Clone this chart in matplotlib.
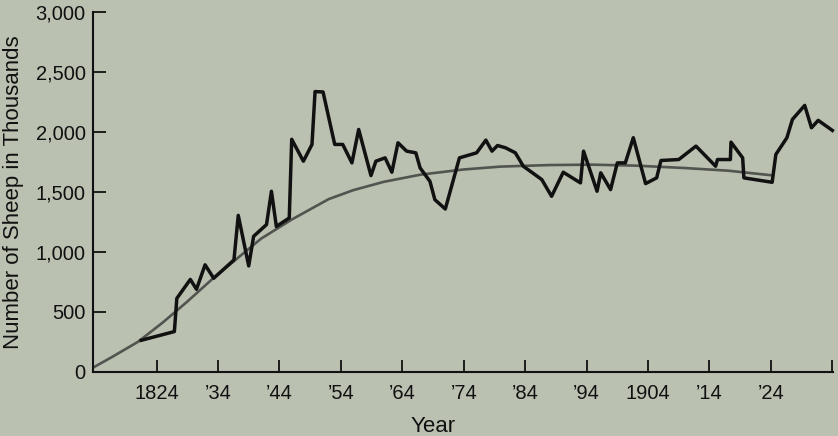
import matplotlib
matplotlib.use('Agg')
import matplotlib.pyplot as plt

# Yearly sheep counts (thousands)
years = [1821.5, 1826.9, 1827.3, 1829.5, 1830.5, 1831.9, 1833.3, 1836.6, 1837.3, 1839.0,
         1839.8, 1841.9, 1842.7, 1843.5, 1845.6, 1846.0, 1847.9, 1849.3, 1849.8, 1851.1,
         1853.0, 1854.3, 1855.8, 1856.9, 1858.9, 1859.7, 1861.2, 1862.3, 1863.3, 1864.7,
         1866.2, 1866.9, 1868.5, 1869.3, 1871.0, 1873.3, 1876.1, 1877.6, 1878.6, 1879.5,
         1880.8, 1882.4, 1883.7, 1886.7, 1888.3, 1890.2, 1893.0, 1893.5, 1895.7, 1896.3,
         1897.9, 1899.0, 1900.3, 1901.6, 1903.6, 1905.4, 1906.1, 1909.0, 1911.8, 1915.0,
         1915.3, 1917.4, 1917.5, 1919.4, 1919.6, 1924.2, 1924.8, 1926.6, 1927.5, 1929.5,
         1930.6, 1931.7, 1934.0]
sheep = [262, 335, 612, 770, 688, 892, 780, 933, 1305, 883,
         1130, 1228, 1506, 1212, 1283, 1940, 1757, 1897, 2338, 2335,
         1897, 1897, 1743, 2022, 1637, 1757, 1785, 1665, 1911, 1841,
         1827, 1701, 1589, 1436, 1358, 1785, 1827, 1933, 1841, 1888,
         1869, 1827, 1715, 1604, 1464, 1665, 1576, 1841, 1506, 1660,
         1520, 1743, 1743, 1953, 1570, 1618, 1763, 1771, 1883, 1715,
         1771, 1771, 1916, 1785, 1618, 1581, 1813, 1953, 2106, 2223,
         2036, 2098, 2014]

# Fitted trend curve
trend_years = [1813.7, 1817, 1821, 1825, 1829, 1833, 1837, 1841, 1846, 1852, 1856,
               1861, 1867, 1874, 1880, 1888, 1895, 1902, 1910, 1917, 1924]
trend_sheep = [35, 130, 250, 410, 585, 770, 940, 1110, 1270, 1440, 1515,
               1585, 1645, 1688, 1712, 1725, 1728, 1720, 1700, 1678, 1640]

# Axis ticks
x_ticks = [1824, 1834, 1844, 1854, 1864, 1874, 1884, 1894, 1904, 1914, 1924, 1934]
x_tick_labels = ['1824', '\u201934', '\u201944', '\u201954', '\u201964', '\u201974',
                 '\u201984', '\u201994', '1904', '\u201914', '\u201924', '']
y_ticks = [0, 500, 1000, 1500, 2000, 2500, 3000]
y_tick_labels = ['0', '500', '1,000', '1,500', '2,000', '2,500', '3,000']

BG = '#bac1b1'


def create_chart():
    # Figure sized to 838x436 pixels
    fig = plt.figure(figsize=(8.38, 4.36), dpi=100, facecolor=BG)
    ax = fig.add_axes([0.1113, 0.1475, 0.8827, 0.8243])
    ax.set_facecolor(BG)
    return fig, ax


def draw_data(ax):
    # Smooth trend first, raw series on top
    ax.plot(trend_years, trend_sheep, color='#51544f', linewidth=1.9,
            solid_capstyle='round', solid_joinstyle='round', clip_on=False)
    ax.plot(years, sheep, color='#111111', linewidth=2.5,
            solid_joinstyle='round', clip_on=False)


def style_axes(ax):
    plt.rcParams['font.family'] = ['Liberation Sans', 'DejaVu Sans']

    ax.set_xlim(1813.7, 1934.1)
    ax.set_ylim(0, 3000)

    for side in ['top', 'right']:
        ax.spines[side].set_visible(False)
    for side in ['left', 'bottom']:
        ax.spines[side].set_linewidth(1.5)
        ax.spines[side].set_color('#111111')

    ax.set_xticks(x_ticks)
    ax.set_xticklabels(x_tick_labels, fontsize=14.5, family='Liberation Sans', color='#111111')
    ax.set_yticks(y_ticks)
    ax.set_yticklabels(y_tick_labels, fontsize=14.5, family='Liberation Sans', color='#111111')

    ax.tick_params(axis='x', direction='in', length=8.5, width=1.3, pad=9, colors='#111111')
    ax.tick_params(axis='y', direction='in', length=9, width=1.3, pad=5.5, colors='#111111')

    # Axis titles
    ax.set_xlabel('Year', fontsize=16, family='Liberation Sans', color='#111111')
    ax.xaxis.set_label_coords(0.459, -0.123)
    ax.set_ylabel('Number of Sheep in Thousands', fontsize=16,
                  family='Liberation Sans', color='#111111')
    ax.yaxis.set_label_coords(-0.0937, 0.5)


def generate_chart():
    fig, ax = create_chart()
    draw_data(ax)
    style_axes(ax)
    fig.savefig('out.png', dpi=100, facecolor=BG)


generate_chart()
